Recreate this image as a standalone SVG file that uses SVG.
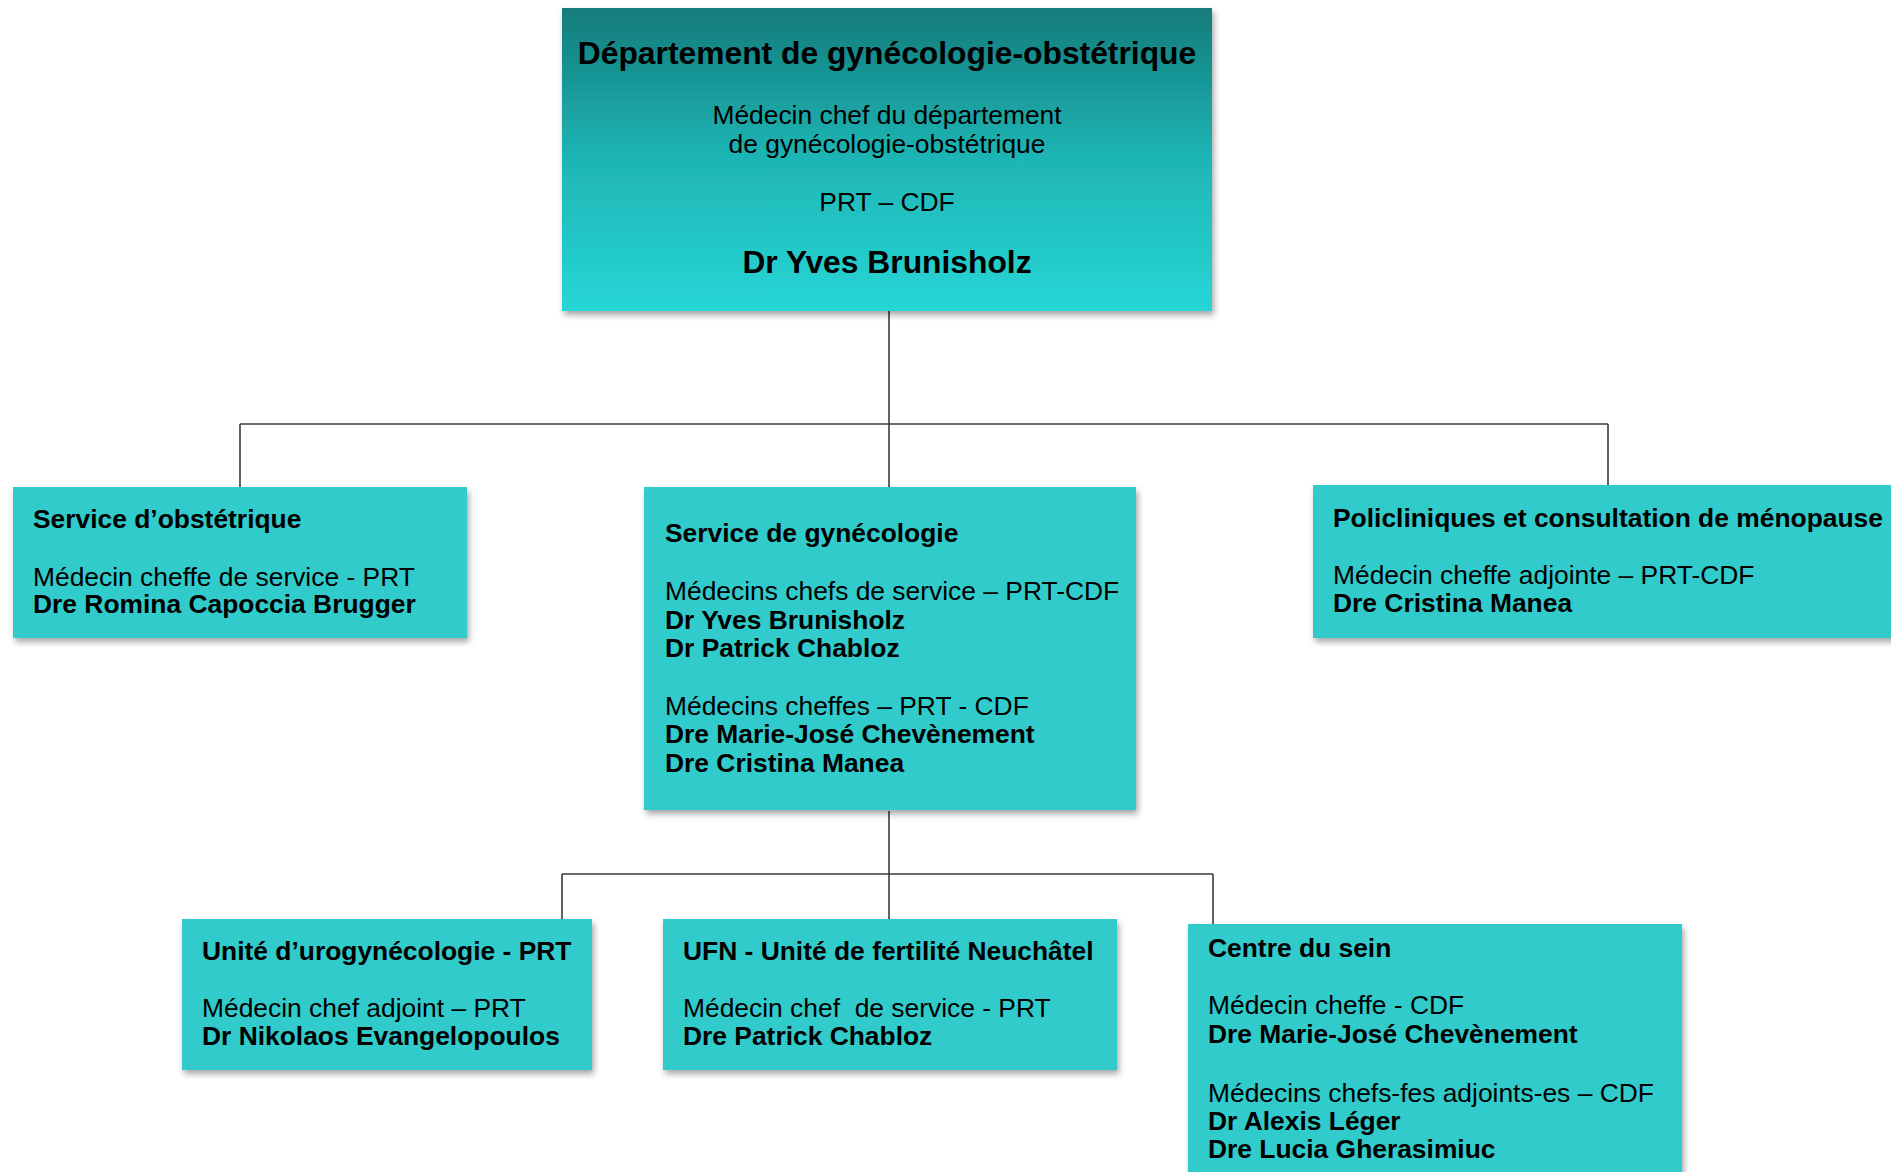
<svg xmlns="http://www.w3.org/2000/svg" width="1891" height="1172" viewBox="0 0 1891 1172">
<defs>
<linearGradient id="topGrad" x1="0" y1="0" x2="0" y2="1">
<stop offset="0" stop-color="#137b7b"/>
<stop offset="0.5" stop-color="#1fb5b5"/>
<stop offset="1" stop-color="#27d6d6"/>
</linearGradient>
<filter id="sh" x="-5%" y="-5%" width="112%" height="120%">
<feDropShadow dx="2" dy="4" stdDeviation="3" flood-color="#000" flood-opacity="0.35"/>
</filter>
<style>
.box{fill:#33cbcb;filter:url(#sh)}
.t{font-family:"Liberation Sans",Arial,sans-serif;fill:#000}
.b{font-weight:bold;font-size:26.4px}
.r{font-size:26.4px}
.c{text-anchor:middle}
.ln{stroke:#3c3c3c;stroke-width:1.6;fill:none}
</style>
</defs>
<rect width="1891" height="1172" fill="#fff"/>
<g id="connectors">
<path class="ln" d="M889 311V424M240 424H1608M240 424V487M889 424V487M1608 424V485"/>
<path class="ln" d="M889 811V874M562 874H1213M562 874V919M889 874V919M1213 874V924"/>
</g>
<g id="dept">
<rect x="562" y="8" width="650" height="303" fill="url(#topGrad)" filter="url(#sh)"/>
<text class="t c" x="887" y="64" font-size="31.8" font-weight="bold">Département de gynécologie-obstétrique</text>
<text class="t c r" x="887" y="124">Médecin chef du département</text>
<text class="t c r" x="887" y="153">de gynécologie-obstétrique</text>
<text class="t c r" x="887" y="211">PRT – CDF</text>
<text class="t c" x="887" y="273" font-size="31.8" font-weight="bold">Dr Yves Brunisholz</text>
</g>
<g id="obstetrique">
<rect class="box" x="13" y="487" width="454" height="151"/>
<text class="t b" x="33" y="528">Service d’obstétrique</text>
<text class="t r" x="33" y="586">Médecin cheffe de service - PRT</text>
<text class="t b" x="33" y="613">Dre Romina Capoccia Brugger</text>
</g>
<g id="gynecologie">
<rect class="box" x="644" y="487" width="492" height="323"/>
<text class="t b" x="665" y="542">Service de gynécologie</text>
<text class="t r" x="665" y="600">Médecins chefs de service – PRT-CDF</text>
<text class="t b" x="665" y="629">Dr Yves Brunisholz</text>
<text class="t b" x="665" y="657">Dr Patrick Chabloz</text>
<text class="t r" x="665" y="715">Médecins cheffes – PRT - CDF</text>
<text class="t b" x="665" y="743">Dre Marie-José Chevènement</text>
<text class="t b" x="665" y="772">Dre Cristina Manea</text>
</g>
<g id="policliniques">
<rect class="box" x="1313" y="485" width="600" height="153"/>
<text class="t b" x="1333" y="527">Policliniques et consultation de ménopause</text>
<text class="t r" x="1333" y="584">Médecin cheffe adjointe – PRT-CDF</text>
<text class="t b" x="1333" y="612">Dre Cristina Manea</text>
</g>
<g id="urogynecologie">
<rect class="box" x="182" y="919" width="410" height="151"/>
<text class="t b" x="202" y="960">Unité d’urogynécologie - PRT</text>
<text class="t r" x="202" y="1017">Médecin chef adjoint – PRT</text>
<text class="t b" x="202" y="1045">Dr Nikolaos Evangelopoulos</text>
</g>
<g id="ufn">
<rect class="box" x="663" y="919" width="454" height="151"/>
<text class="t b" x="683" y="960">UFN - Unité de fertilité Neuchâtel</text>
<text class="t r" x="683" y="1017" xml:space="preserve">Médecin chef  de service - PRT</text>
<text class="t b" x="683" y="1045">Dre Patrick Chabloz</text>
</g>
<g id="sein">
<rect class="box" x="1188" y="924" width="494" height="260"/>
<text class="t b" x="1208" y="957">Centre du sein</text>
<text class="t r" x="1208" y="1014">Médecin cheffe - CDF</text>
<text class="t b" x="1208" y="1043">Dre Marie-José Chevènement</text>
<text class="t r" x="1208" y="1102">Médecins chefs-fes adjoints-es – CDF</text>
<text class="t b" x="1208" y="1130">Dr Alexis Léger</text>
<text class="t b" x="1208" y="1158">Dre Lucia Gherasimiuc</text>
</g>
</svg>
